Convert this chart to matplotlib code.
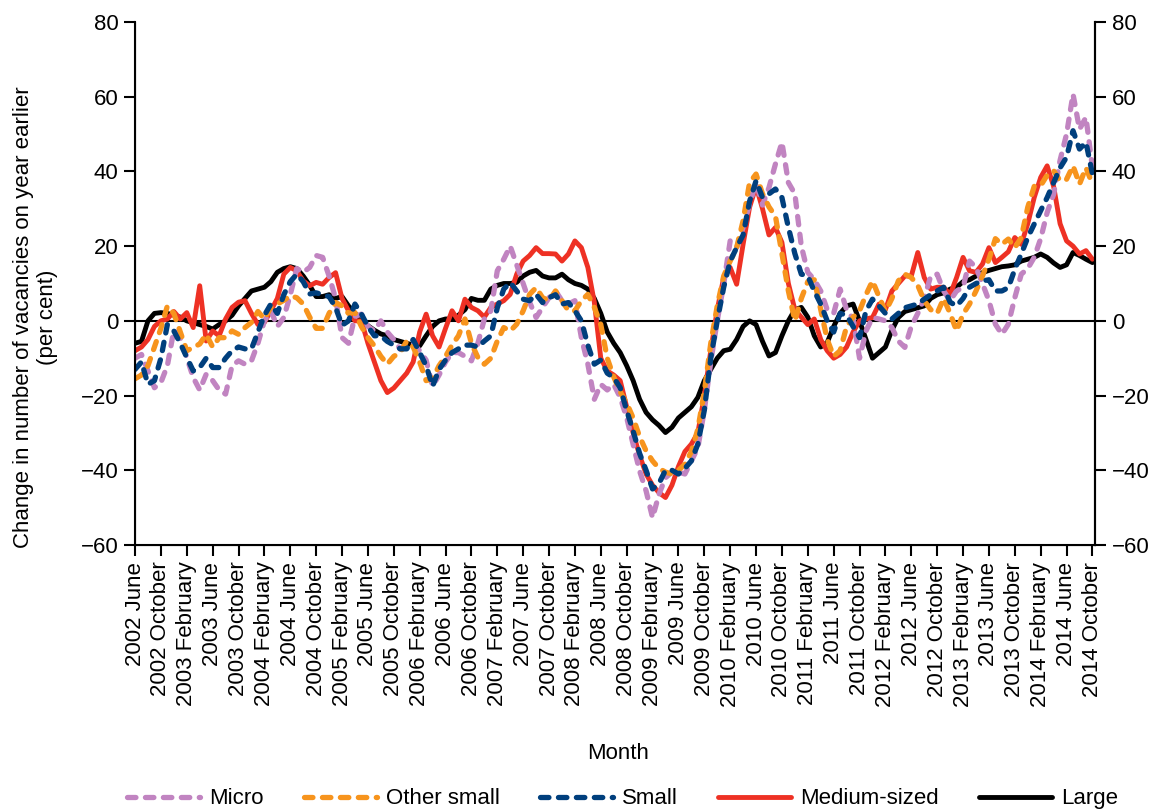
import numpy as np
import pandas as pd
import matplotlib
matplotlib.use("Agg")
import matplotlib.pyplot as plt

# monthly, 2002 June .. 2014 October
months = pd.date_range("2002-06-01", "2014-10-01", freq="MS")

micro = [-10, -9, -13.4, -17.9, -16.5, -12, -2.5, -4.5, -9.8, -15.2, -18.5, -14.3, -16, -18.5, -19.6, -12,
         -10.7, -11.6, -10.7, -6, 0, 2.7, -1.5, 0.9, 7, 14, 13, 14.3, 17.5, 17, 12, 6, -4.5, -6, 1.2, 1.8,
         -1.5, -2.7, 0, -3, -5, -7.6, -6.5, -6, -8, -10.5, -17.5, -14.5, -11, -8.5, -8.5, -9.5, -10.7, -6,
         0.5, 2.7, 13.4, 16.5, 20, 15, 10, 5, 0.9, 3.6, 6.2, 8, 5.4, 4.5, 5.4, -4.5, -11.6, -21, -17, -18.5,
         -17, -20.5, -25.9, -33, -40.2, -45.5, -52.7, -46.4, -42, -40.5, -40.5, -41, -37.5, -34, -24, -11,
         0, 9.8, 21.4, 19.6, 25, 31.3, 37, 31, 35.7, 42, 47.8, 37, 34, 20, 13, 11, 8, 3, 2, 8.5, 3, 0.5,
         -10, -2.7, 0.9, 0.5, 0, -1.8, -5.4, -7.1, -1.5, 2, 6, 12, 12.5, 8, 5.4, 8, 9, 16, 14.3, 10, 5.4,
         -0.9, -3.6, -0.9, 6.2, 12.5, 14, 17, 22, 29, 33.9, 43, 50, 60.7, 51.3, 54.5, 41]

other_small = [-15.5, -14.5, -12, -7, -2, 4, 2, -3, -8, -7.1, -6.2, -3.6, -7, -4.5, -4.5, -2.7, -3.6, -1.8,
               -0.4, 2.5, 0.5, 3.6, 4.5, 5.5, 6.7, 6.2, 4.5, 1, -2, -2, 2, 4.9, 4, 2, 2.2, -1.5, -4.5,
               -6.7, -9.5, -11.6, -9.5, -8.5, -5.4, -7, -11, -16, -15.5, -12, -9.5, -6.5, -4, 0.5, -6,
               -9.8, -11.6, -10, -5.4, -1.8, -2.7, -0.9, 2.7, 7.1, 8.9, 6.2, 5.4, 8, 5.4, 2.7, 2.7, 5.4,
               7.1, 3.6, -1, -10, -15, -19, -22, -26, -31, -34.8, -37.5, -39.5, -40.5, -41, -40, -38.4,
               -35, -29, -19, -6, 4, 12, 16, 19.6, 26.8, 37, 39.3, 34, 30.5, 28, 18, 8, 0, 6, 10.5, 11, 3,
               -5, -9.5, -8, -1.5, 1, 2.7, 7, 10.7, 6.5, 2.5, 6, 10.7, 12.5, 11.6, 9.5, 5.4, 3, 2, 6, 2,
               -2.7, 1.8, 4.5, 8, 12, 16.5, 22, 20.5, 21.9, 19.6, 22.3, 30.4, 36, 36.2, 39, 40.2, 37.5,
               37.9, 41.5, 36.6, 41, 36.6]

small = [-13, -11, -17, -16, -10, -1, -2.7, -6, -9.8, -13.4, -12.5, -10, -12.5, -12.5, -10, -8, -7, -7.5,
         -7.5, -3, 1.5, 4.5, 2, 7, 10.5, 12.5, 10.5, 7.2, 7.5, 7, 6.5, 3.6, -1.2, 0, 4.5, 1.8, -1.5, -4,
         -4, -5.5, -6.5, -7.5, -7.5, -5, -8.5, -12, -17.5, -13, -10.5, -8.5, -7.5, -6.5, -6.5, -7, -5.4,
         -4, 3.5, 8.5, 10.3, 8, 5.8, 5.4, 7.1, 4.9, 6.2, 7, 4.5, 4.9, 2.7, 0, -6.5, -11.6, -10.5, -14,
         -15.2, -17.9, -24, -29.5, -35.5, -40, -45, -43.5, -40, -40, -41, -39.5, -37.5, -33, -24, -10,
         0, 9, 16, 19.6, 23, 32, 37.5, 33, 34, 35.3, 33, 25, 18, 12.5, 12, 8, 4.5, 0, -3, 2, 1.5, -1.5,
         -4.5, 2.7, 5.8, 4, 2, 0.5, 2, 3.5, 4, 4.5, 5.8, 7, 8, 9, 5, 4, 6, 9, 10, 10.7, 11, 8, 8, 8.9,
         13.8, 17.9, 22.3, 25.9, 29.5, 33, 37, 41, 43.8, 50.9, 46, 47.8, 39.3]

medium = [-8, -7, -5, -1.5, 0, 0.5, 2.5, 0.5, 2.2, -1.8, 9.4, -5.4, -2.7, -4, 0.5, 3.6, 5, 5.4, 2, -1,
          -0.4, 2.7, 6, 12.5, 14.3, 13.4, 10.7, 9.4, 10.3, 9.8, 11.6, 12.9, 6, 2.7, 0, 0, -6, -11, -16,
          -19.2, -18, -16, -14, -11, -3, 1.8, -4, -7, -2, 2.7, 0, 5.8, 3.6, 2.7, 1, 3.6, 4.5, 5.4, 7.1,
          12.5, 16, 17.5, 19.6, 18, 18, 17.9, 16, 17.9, 21.4, 19.6, 14.3, 5, -10, -13.4, -14.5, -16, -23,
          -30, -36, -41, -44, -46, -47.3, -44, -39, -35, -33, -30, -20, -8, 3, 11.6, 14.3, 9.8, 20.5,
          30.4, 36, 30, 23, 25, 21, 10, 3, 1, -1, 0.5, -5, -8, -10, -9, -7, -3, 0, 0.5, 0.9, 4.5, 3, 8,
          10, 12, 12, 18.3, 11.6, 8.5, 9, 9, 7, 11.6, 17, 13.4, 13, 15.2, 19.6, 15.6, 17, 18.5, 22.3,
          20.5, 26, 33, 38.4, 41.5, 36, 26, 21.4, 20, 17.9, 18.8, 16.5]

large = [-6, -5.5, 0, 2, 2.2, 2, 1.5, 1, 0, -0.5, -1, -1.5, -2.2, -1, 0, 1.5, 4, 6, 8, 8.5, 9, 10.5, 13,
         14, 14.5, 14, 12, 9.5, 6.5, 6.5, 7, 6, 6.5, 4, 2, 0.5, -1.3, -2.5, -3.5, -4, -5, -5.5, -6, -6.5,
         -6.7, -4, -1.5, 0, 0.5, 0.5, 1.5, 3, 6, 5.5, 5.5, 8.5, 9.5, 10, 10, 10.3, 12, 13, 13.5, 12, 11.5,
         11.5, 12.5, 11, 10, 9.5, 8.5, 6, 2, -3, -6, -8.5, -12, -16, -21, -24.5, -26.5, -28, -29.9, -28.5,
         -26, -24.5, -23, -20.5, -16, -13, -10, -8, -7.6, -5, -1.5, 0, -1, -5.5, -9.4, -8.5, -4, 0, 3,
         3.6, 1, -4, -7, -5.8, -1.5, 2, 4, 4.5, 0, -5, -10, -8.5, -7, -2.5, 0.9, 2.5, 3, 3.5, 4, 6, 7,
         7.5, 8.5, 9, 10.5, 11, 12, 12.9, 13.5, 14, 14.5, 14.7, 15, 16, 16.5, 17, 17.9, 17, 15.5, 14.3,
         15, 18.3, 17.5, 16.5, 15.6]

series_names = ["Micro", "Other small", "Small", "Medium-sized", "Large"]
colors = {"Micro": "#c184c1", "Other small": "#f7941d", "Small": "#003f7d",
          "Medium-sized": "#ee3124", "Large": "#000000"}

plt.rcParams['font.family'] = 'Liberation Sans'
plt.rcParams['font.size'] = 16

fig = plt.figure(figsize=(11.59, 8.10), dpi=100)
ax = fig.add_axes([0.1165, 0.3272, 0.8283, 0.6456])

x = np.arange(len(months))
data = {"Micro": micro, "Other small": other_small, "Small": small,
        "Medium-sized": medium, "Large": large}

ax.axhline(0, color="black", lw=1.5, zorder=1)

dash = (0, (1.6, 1.8))
lines = {}
for name in ["Large", "Medium-sized", "Micro", "Other small", "Small"]:
    if name in ("Micro", "Other small", "Small"):
        ls, lw = dash, 3.8
    else:
        ls, lw = "-", 3.5
    ln, = ax.plot(x, data[name], color=colors[name], lw=lw, linestyle=ls,
                  dash_capstyle="round", solid_capstyle="round", label=name, zorder=2)
    lines[name] = ln

ax.set_xlim(0, 148.4)
ax.set_ylim(-60, 80)
ax.set_yticks(np.arange(-60, 81, 20))

tick_pos = x[::4]
tick_lab = [f"{d.year} {d.strftime('%B')}" for d in months[::4]]
ax.set_xticks(tick_pos)
ax.set_xticklabels(tick_lab, rotation=90, va="top", ha="center")

for s in ["left", "right", "bottom"]:
    ax.spines[s].set_linewidth(1.5)
ax.spines["top"].set_visible(False)
ax.tick_params(axis="both", direction="out", length=8, width=1.5, pad=4)

ax2 = ax.twinx()
ax2.set_ylim(-60, 80)
ax2.set_yticks(np.arange(-60, 81, 20))
ax2.spines["top"].set_visible(False)
ax2.spines["right"].set_linewidth(1.5)
ax2.tick_params(axis="y", direction="out", length=8, width=1.5, pad=4)

ax.set_ylabel("Change in number of vacancies on year earlier\n(per cent)")
ax.yaxis.set_label_coords(-0.08, 0.436)
ax.set_xlabel("Month")
ax.xaxis.set_label_coords(0.503, -0.378)

handles = [lines[n] for n in series_names]
fig.legend(handles, series_names, loc="lower center", bbox_to_anchor=(0.537, -0.024),
           ncol=5, frameon=False, handlelength=3.3, handletextpad=0.4, columnspacing=1.8)

fig.savefig("out.png", dpi=100)
